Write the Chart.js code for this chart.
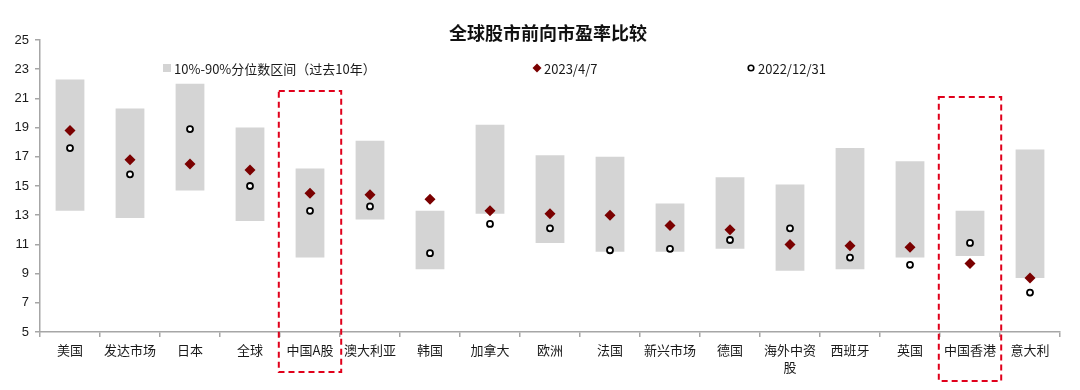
<!DOCTYPE html>
<html>
<head>
<meta charset="utf-8">
<script src="https://cdn.jsdelivr.net/npm/chart.js@4.4.1/dist/chart.umd.min.js"></script>
<style>
    html, body { margin: 0; padding: 0; background: #fff; }
    #wrap { width: 1080px; height: 390px; }
</style>
</head>
<body>
<div id="wrap"><canvas id="peChart" width="1080" height="390"></canvas></div>
<script>
const chartTitle = '全球股市前向市盈率比较';
const markets = ['美国', '发达市场', '日本', '全球', '中国A股', '澳大利亚', '韩国', '加拿大', '欧洲', '法国',
    '新兴市场', '德国', ['海外中资', '股'], '西班牙', '英国', '中国香港', '意大利'];
// 10%-90% range over the past 10 years
const rangeLow  = [13.3, 12.8, 14.7, 12.6, 10.1, 12.7,  9.3, 13.1, 11.1, 10.5, 10.5, 10.7,  9.2,  9.3, 10.1, 10.2,  8.7];
const rangeHigh = [22.3, 20.3, 22.0, 19.0, 16.2, 18.1, 13.3, 19.2, 17.1, 17.0, 13.8, 15.6, 15.1, 17.6, 16.7, 13.3, 17.5];
const pe20230407 = [18.8, 16.8, 16.5, 16.1, 14.5, 14.4, 14.1, 13.3, 13.1, 13.0, 12.3, 12.0, 11.0, 10.9, 10.8, 9.7, 8.7];
const pe20221231 = [17.6, 15.8, 18.9, 15.0, 13.3, 13.6, 10.4, 12.4, 12.1, 10.6, 10.7, 11.3, 12.1, 10.1, 9.6, 11.1, 7.7];
const yMin = 5, yMax = 25, yStep = 2;
const highlighted = [4, 15];        // 中国A股, 中国香港
const highlightTop = [21.5, 21.1];

const latinFont = 'Arial, "Liberation Sans", "Noto Sans CJK SC", sans-serif';
const cjkFont = '"Noto Sans CJK SC", "Liberation Sans", sans-serif';

const legendItems = [
    { text: '10%-90%分位数区间（过去10年）', kind: 'box', x: 163 },
    { text: '2023/4/7', kind: 'diamond', x: 533 },
    { text: '2022/12/31', kind: 'circle', x: 747 }
];

// title + legend sit inside / above the plot area like the original
const legendPlugin = {
    id: 'innerLegend',
    afterDraw(chart) {
        const ctx = chart.ctx;
        const area = chart.chartArea;
        ctx.save();
        ctx.font = 'bold 18px ' + cjkFont;
        ctx.fillStyle = '#111';
        ctx.textAlign = 'center';
        ctx.textBaseline = 'middle';
        ctx.fillText(chartTitle, (area.left + area.right) / 2 - 2, 33);

        const y = area.top + 28;
        ctx.textAlign = 'left';
        ctx.font = '13px ' + cjkFont;
        for (const item of legendItems) {
            if (item.kind == 'box') {
                ctx.fillStyle = '#d4d4d4';
                ctx.fillRect(item.x, y - 4, 8, 8);
            } else if (item.kind == 'diamond') {
                ctx.fillStyle = '#7a0000';
                ctx.beginPath();
                ctx.moveTo(item.x + 4, y - 4.5);
                ctx.lineTo(item.x + 8.5, y);
                ctx.lineTo(item.x + 4, y + 4.5);
                ctx.lineTo(item.x - 0.5, y);
                ctx.closePath();
                ctx.fill();
            } else {
                ctx.strokeStyle = '#000';
                ctx.lineWidth = 1.6;
                ctx.beginPath();
                ctx.arc(item.x + 4, y, 2.8, 0, Math.PI * 2);
                ctx.stroke();
            }
            ctx.fillStyle = '#1a1a1a';
            ctx.fillText(item.text, item.x + 11, y + 1);
        }
        ctx.restore();
    }
};

const boxPlugin = {
    id: 'dashedBoxes',
    afterDraw(chart) {
        const ctx = chart.ctx;
        const xs = chart.scales.x, ys = chart.scales.y;
        const half = (xs.getPixelForValue(1) - xs.getPixelForValue(0)) * 0.52;
        ctx.save();
        ctx.strokeStyle = '#e0001b';
        ctx.lineWidth = 2;
        ctx.setLineDash([6, 4]);
        highlighted.forEach((idx, k) => {
            const cx = xs.getPixelForValue(idx);
            const top = ys.getPixelForValue(highlightTop[k]);
            const bottom = chart.height - (k == 0 ? 18 : 9);
            ctx.strokeRect(cx - half, top, half * 2, bottom - top);
        });
        ctx.restore();
    }
};

new Chart('peChart', {
    type: 'bar',
    data: {
        labels: markets,
        datasets: [{
            type: 'line',
            label: '2023/4/7',
            data: pe20230407,
            showLine: false,
            pointStyle: 'rectRot',
            pointRadius: 5.5,
            pointBackgroundColor: '#7a0000',
            pointBorderColor: '#7a0000',
            pointBorderWidth: 0,
            order: 1
        },
        {
            type: 'line',
            label: '2022/12/31',
            data: pe20221231,
            showLine: false,
            pointStyle: 'circle',
            pointRadius: 3,
            pointBackgroundColor: '#fff',
            pointBorderColor: '#000',
            pointBorderWidth: 1.8,
            order: 2
        },
        {
            label: '10%-90%分位数区间（过去10年）',
            data: rangeLow.map((v, i) => [v, rangeHigh[i]]),
            backgroundColor: '#d4d4d4',
            borderWidth: 0,
            categoryPercentage: 1,
            barPercentage: 0.48,
            order: 3
        }]
    },
    options: {
        responsive: false,
        animation: false,
        layout: { padding: { left: 4, right: 20, top: 40, bottom: 0 } },
        plugins: {
            legend: { display: false },
            tooltip: { enabled: false },
            title: { display: false }
        },
        scales: {
            x: {
                grid: { offset: true, drawOnChartArea: false, tickLength: 5, color: '#a6a6a6', lineWidth: 1.5 },
                border: { color: '#a6a6a6', width: 1.5 },
                ticks: { autoSkip: false, maxRotation: 0, minRotation: 0, color: '#1a1a1a', padding: 5,
                    font: { family: cjkFont, size: 13, lineHeight: 1.3 } },
                afterFit: (scale) => { scale.height = 58; }
            },
            y: {
                min: yMin, max: yMax,
                grid: { drawOnChartArea: false, tickLength: 5, color: '#a6a6a6', lineWidth: 1.5 },
                border: { color: '#a6a6a6', width: 1.5 },
                ticks: { stepSize: yStep, color: '#1a1a1a', padding: 6, font: { family: latinFont, size: 13 } },
                afterFit: (scale) => { scale.width = 36; }
            }
        }
    },
    plugins: [legendPlugin, boxPlugin]
});
</script>
</body>
</html>
